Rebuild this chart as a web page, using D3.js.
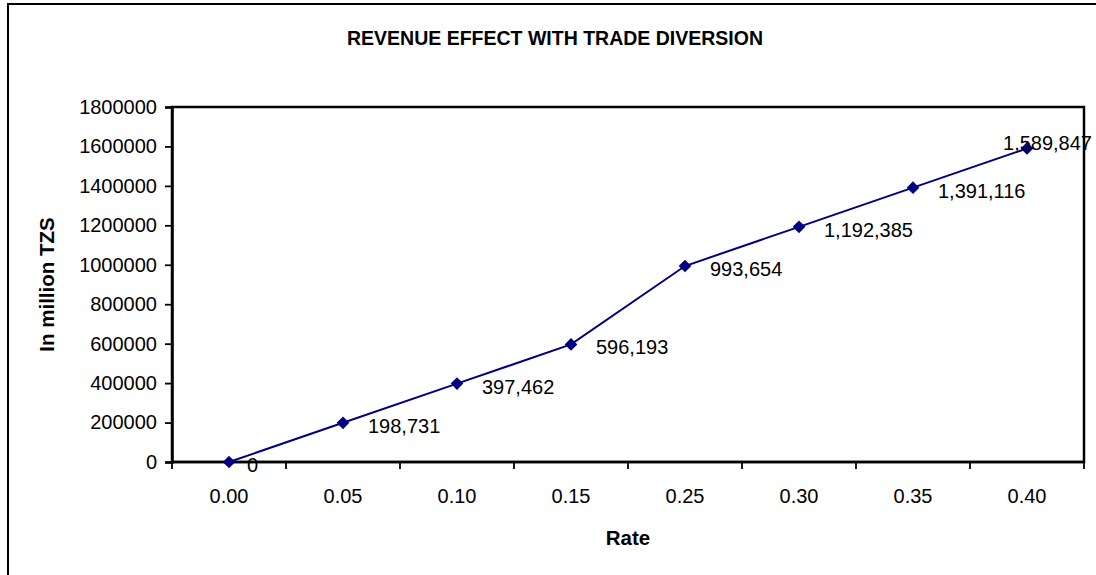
<!DOCTYPE html>
<html>
<head>
<meta charset="utf-8">
<script src="https://cdn.jsdelivr.net/npm/d3@7"></script>
<style>
  body { margin: 0; background: #fff; }
  svg { display: block; font-family: "Liberation Sans", Arial, sans-serif; }
</style>
</head>
<body>
<div id="chart"></div>
<script>
(function () {

    // chart data
    const rates = ['0.00', '0.05', '0.10', '0.15', '0.25', '0.30', '0.35', '0.40'];
    const revenue = [0, 198731, 397462, 596193, 993654, 1192385, 1391116, 1589847];
    const yTicks = [0, 200000, 400000, 600000, 800000, 1000000, 1200000, 1400000, 1600000, 1800000];

    const width = 1096;
    const height = 575;
    const margin = { top: 107, right: 12, bottom: 113, left: 172 };

    const svg = d3.select('#chart')
        .append('svg')
        .attr('width', width)
        .attr('height', height);

    // outer chart frame (runs off the bottom/right of the picture)
    svg.append('rect')
        .attr('x', 8)
        .attr('y', 4)
        .attr('width', 1200)
        .attr('height', 700)
        .attr('fill', 'none')
        .attr('stroke', 'black')
        .attr('stroke-width', 2);

    const x = d3.scaleBand()
        .domain(rates)
        .range([margin.left, width - margin.right]);

    const y = d3.scaleLinear()
        .domain([0, 1800000])
        .range([height - margin.bottom, margin.top]);

    // plot area border
    svg.append('rect')
        .attr('x', margin.left)
        .attr('y', margin.top)
        .attr('width', width - margin.right - margin.left)
        .attr('height', height - margin.bottom - margin.top)
        .attr('fill', 'none')
        .attr('stroke', 'black')
        .attr('stroke-width', 2.5);

    // y axis
    const yAxis = svg.append('g')
        .attr('transform', `translate(${margin.left},0)`)
        .call(d3.axisLeft(y).tickValues(yTicks).tickFormat(d3.format('d')).tickSize(7).tickPadding(8));

    yAxis.select('.domain').attr('stroke-width', 2.5);
    yAxis.selectAll('.tick line').attr('stroke-width', 1.8);
    yAxis.selectAll('.tick text')
        .attr('font-size', 20)
        .attr('fill', 'black')
        .style('font-family', '"Liberation Sans", Arial, sans-serif');

    // x axis, ticks between categories like excel
    const xAxis = svg.append('g')
        .attr('transform', `translate(0,${height - margin.bottom})`);

    xAxis.append('line')
        .attr('x1', margin.left)
        .attr('x2', width - margin.right)
        .attr('stroke', 'black')
        .attr('stroke-width', 2.5);

    const bounds = rates.map(r => x(r)).concat([x.range()[1]]);

    xAxis.selectAll('.xtick')
        .data(bounds)
        .join('line')
        .attr('class', 'xtick')
        .attr('x1', d => d)
        .attr('x2', d => d)
        .attr('y1', 0)
        .attr('y2', 7)
        .attr('stroke', 'black')
        .attr('stroke-width', 1.8);

    xAxis.selectAll('.xlabel')
        .data(rates)
        .join('text')
        .attr('class', 'xlabel')
        .attr('x', d => x(d) + x.bandwidth() / 2)
        .attr('y', 41)
        .attr('text-anchor', 'middle')
        .attr('font-size', 20)
        .text(d => d);

    // title and axis titles
    svg.append('text')
        .attr('x', 555)
        .attr('y', 45)
        .attr('text-anchor', 'middle')
        .attr('font-size', 19.5)
        .attr('font-weight', 'bold')
        .text('REVENUE EFFECT WITH TRADE DIVERSION');

    svg.append('text')
        .attr('transform', `translate(54,${(margin.top + height - margin.bottom) / 2}) rotate(-90)`)
        .attr('text-anchor', 'middle')
        .attr('font-size', 20.5)
        .attr('font-weight', 'bold')
        .text('In million TZS');

    svg.append('text')
        .attr('x', (margin.left + width - margin.right) / 2)
        .attr('y', 545)
        .attr('text-anchor', 'middle')
        .attr('font-size', 20.5)
        .attr('font-weight', 'bold')
        .text('Rate');

    // line series
    const cx = (d, i) => x(rates[i]) + x.bandwidth() / 2;

    const line = d3.line()
        .x(cx)
        .y(d => y(d));

    svg.append('path')
        .datum(revenue)
        .attr('d', line)
        .attr('fill', 'none')
        .attr('stroke', '#000080')
        .attr('stroke-width', 2);

    const diamond = d3.symbol().type(d3.symbolSquare).size(80);

    svg.selectAll('.marker')
        .data(revenue)
        .join('path')
        .attr('class', 'marker')
        .attr('d', diamond)
        .attr('transform', (d, i) => `translate(${cx(d, i)},${y(d)}) rotate(45)`)
        .attr('fill', '#000080');

    // data labels, pushed back inside the chart when they would run off
    const fmt = d3.format(',');
    const labelRight = width - 4;

    svg.selectAll('.dlabel')
        .data(revenue)
        .join('text')
        .attr('class', 'dlabel')
        .attr('font-size', 20)
        .text(d => fmt(d))
        .each(function (d, i) {
            const t = d3.select(this);
            const w = this.getComputedTextLength();
            let lx = cx(d, i) + (d === 0 ? 18 : 25);
            let ly = y(d) + 10;
            if (lx + w > labelRight) {
                lx = labelRight - w;
                ly = y(d) + 2;
            }
            t.attr('x', lx).attr('y', ly);
        });

})();
</script>
</body>
</html>
